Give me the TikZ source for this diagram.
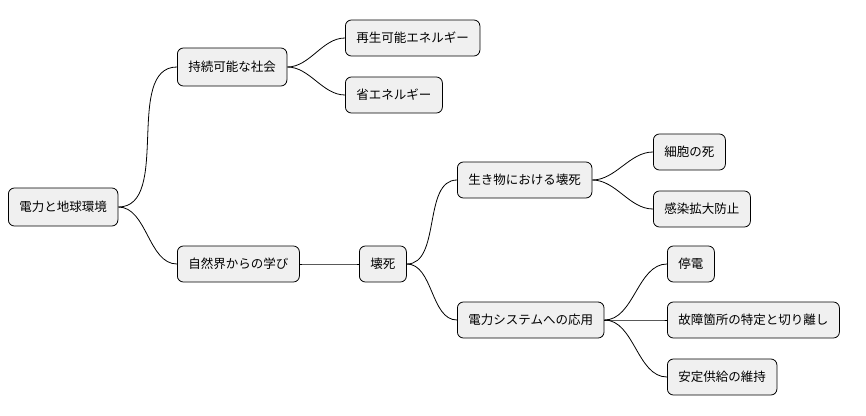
\documentclass[tikz,border=0pt]{standalone}
\usepackage{fontspec}
\setmainfont{Noto Sans CJK JP}
\usetikzlibrary{positioning}

\tikzset{
  topic/.style={draw=black, fill=black!6, rounded corners=6pt, line width=0.8pt,
    minimum height=36pt, inner xsep=11pt, anchor=west, font=\fontsize{12.5pt}{14pt}\selectfont},
  branch/.style={line width=0.8pt, out=0, in=180, looseness=0.9}
}

\begin{document}
\begin{tikzpicture}[x=1pt, y=-1pt]
  \useasboundingbox (0,0) rectangle (866,415);
  % root
  \node[topic, minimum height=38pt] (root) at (8,207) {電力と地球環境};
  % first branch
  \node[topic, minimum height=38pt] (social) at (177,67) {持続可能な社会};
  \node[topic] (renew) at (345,38) {再生可能エネルギー};
  \node[topic] (save) at (345,95) {省エネルギー};
  % second branch
  \node[topic] (nature) at (177,264) {自然界からの学び};
  \node[topic] (necro) at (359,264) {壊死};
  \node[topic] (life) at (457,180) {生き物における壊死};
  \node[topic] (cell) at (653,152) {細胞の死};
  \node[topic] (infect) at (653,209) {感染拡大防止};
  \node[topic] (power) at (457,320) {電力システムへの応用};
  \node[topic] (outage) at (667,264) {停電};
  \node[topic] (fault) at (667,320) {故障箇所の特定と切り離し};
  \node[topic] (stable) at (667,377) {安定供給の維持};

  \draw[branch] (root.east) to (social.west);
  \draw[branch] (root.east) to (nature.west);
  \draw[branch] (social.east) to (renew.west);
  \draw[branch] (social.east) to (save.west);
  \draw[branch] (nature.east) to (necro.west);
  \draw[branch] (necro.east) to (life.west);
  \draw[branch] (necro.east) to (power.west);
  \draw[branch] (life.east) to (cell.west);
  \draw[branch] (life.east) to (infect.west);
  \draw[branch] (power.east) to (outage.west);
  \draw[branch] (power.east) to (fault.west);
  \draw[branch] (power.east) to (stable.west);
\end{tikzpicture}
\end{document}
